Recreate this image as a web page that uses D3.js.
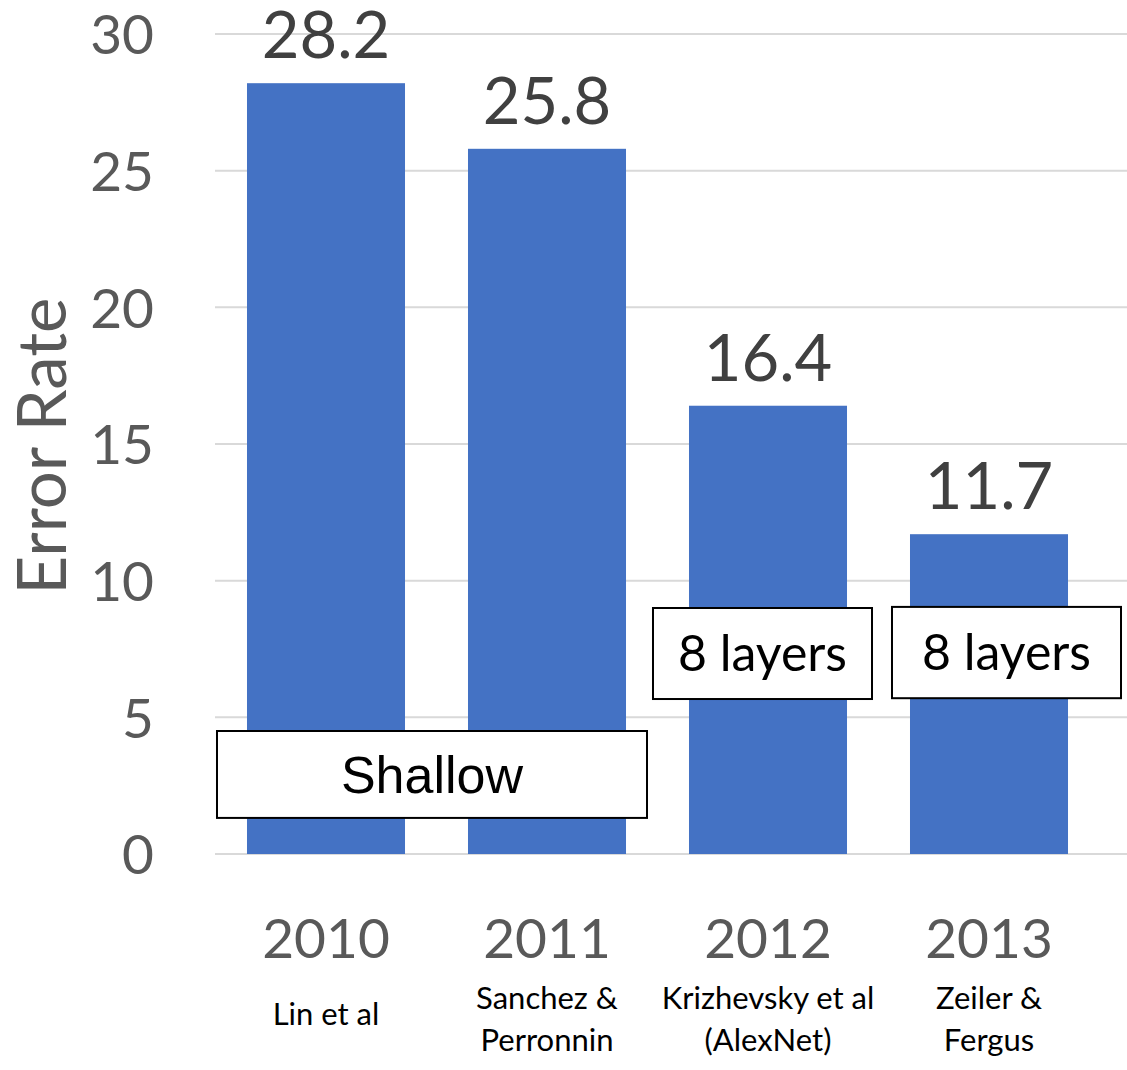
<!DOCTYPE html>
<html>
<head>
<meta charset="utf-8">
<script src="https://cdn.jsdelivr.net/npm/d3@7"></script>
<style>
  html, body { margin: 0; padding: 0; background: #fff; }
  svg { display: block; }
</style>
</head>
<body>
<svg id="chart" width="1127" height="1070" font-family="Lato, 'Open Sans', sans-serif"></svg>
<script>
const years = ["2010", "2011", "2012", "2013"];
const authors = [["Lin et al"], ["Sanchez &", "Perronnin"], ["Krizhevsky et al", "(AlexNet)"], ["Zeiler &", "Fergus"]];
const errorRates = [28.2, 25.8, 16.4, 11.7];
const yTicks = [0, 5, 10, 15, 20, 25, 30];
const yLabel = "Error Rate";
const annotations = [
  { text: "Shallow", from: "2010", to: "2011", top: 4.5, bottom: 1.32, font: "'Liberation Sans', Arial, sans-serif", size: 52 },
  { text: "8 layers", from: "2012", to: "2012", top: 9.0, bottom: 5.67, font: "Lato, sans-serif", size: 50 },
  { text: "8 layers", from: "2013", to: "2013", top: 9.04, bottom: 5.7, font: "Lato, sans-serif", size: 50 }
];

const svg = d3.select("#chart");
const x = d3.scaleBand().domain(years).range([215.5, 1099.5]).paddingInner(0.285).paddingOuter(0.1425);
const y = d3.scaleLinear().domain([0, 30]).range([854, 34]);

// gridlines
svg.append("g").selectAll("line").data(yTicks).join("line")
  .attr("x1", 215).attr("x2", 1127)
  .attr("y1", d => y(d)).attr("y2", d => y(d))
  .attr("stroke", "#d9d9d9").attr("stroke-width", 2);

// y axis labels
const yAxis = d3.axisLeft(y).tickValues(yTicks).tickSize(0).tickPadding(0);
const yg = svg.append("g").attr("transform", "translate(154,0)").call(yAxis);
yg.select(".domain").remove();
yg.selectAll("text").attr("font-family", "Lato, sans-serif").attr("font-size", 55).attr("fill", "#595959").attr("dy", "0.36em");

// y label
svg.append("text").attr("transform", `translate(66,${y(15) + 2}) rotate(-90)`)
  .attr("text-anchor", "middle").attr("font-size", 67).attr("fill", "#595959").text(yLabel);

// bars
svg.append("g").selectAll("rect").data(errorRates).join("rect")
  .attr("x", (d, i) => x(years[i])).attr("width", x.bandwidth())
  .attr("y", d => y(d)).attr("height", d => y(0) - y(d))
  .attr("fill", "#4472c4");

// data labels
svg.append("g").selectAll("text").data(errorRates).join("text")
  .attr("x", (d, i) => x(years[i]) + x.bandwidth() / 2)
  .attr("y", d => y(d) - 25)
  .attr("text-anchor", "middle").attr("font-size", 65).attr("fill", "#404040")
  .text(d => d.toFixed(1));

// x axis labels (years)
const xAxis = d3.axisBottom(x).tickSize(0).tickPadding(0);
const xg = svg.append("g").attr("transform", "translate(0,958)").call(xAxis);
xg.select(".domain").remove();
xg.selectAll("text").attr("font-family", "Lato, sans-serif").attr("font-size", 55).attr("fill", "#595959").attr("dy", 0);

// author labels
const ag = svg.append("g");
authors.forEach((lines, i) => {
  const cx = x(years[i]) + x.bandwidth() / 2;
  const startY = lines.length === 1 ? 1025 : 1009;
  lines.forEach((ln, j) => {
    ag.append("text").attr("x", cx).attr("y", startY + j * 42)
      .attr("text-anchor", "middle").attr("font-size", 31).attr("fill", "#000").text(ln);
  });
});

// annotation boxes
const ann = svg.append("g").selectAll("g").data(annotations).join("g");
ann.each(function(a, i) {
  const g = d3.select(this);
  let x0, x1;
  if (i === 0) { x0 = x(a.from) - 30; x1 = x(a.to) + x.bandwidth() + 21; }
  else if (i === 1) { x0 = x(a.from) - 36; x1 = x(a.to) + x.bandwidth() + 25; }
  else { x0 = x(a.from) - 18; x1 = x(a.to) + x.bandwidth() + 53; }
  const y0 = y(a.top), y1 = y(a.bottom);
  g.append("rect").attr("x", x0).attr("y", y0).attr("width", x1 - x0).attr("height", y1 - y0)
    .attr("fill", "#fff").attr("stroke", "#000").attr("stroke-width", 2);
  g.append("text").attr("x", (x0 + x1) / 2).attr("y", (y0 + y1) / 2).attr("dy", "0.35em")
    .attr("text-anchor", "middle").attr("font-family", a.font).attr("font-size", a.size)
    .attr("fill", "#000").text(a.text);
});
</script>
</body>
</html>
